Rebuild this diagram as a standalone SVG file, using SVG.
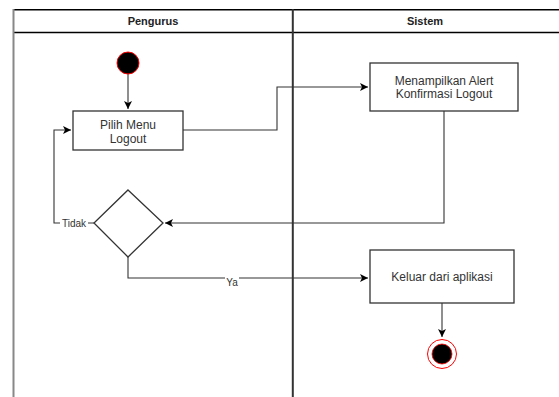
<svg xmlns="http://www.w3.org/2000/svg" width="559" height="397" viewBox="0 0 559 397">
<style>
.lane{stroke:#000;stroke-width:1.5;fill:none}
.box{fill:#fff;stroke:#333;stroke-width:1.3}
.t{font-family:"Liberation Sans",Arial,sans-serif;font-size:12px;fill:#333;text-anchor:middle}
.l{font-family:"Liberation Sans",Arial,sans-serif;font-size:10px;fill:#333;text-anchor:middle}
.h{font-family:"Liberation Sans",Arial,sans-serif;font-size:11px;font-weight:bold;fill:#222;text-anchor:middle}
.e{stroke:#333;stroke-width:1.1;fill:none}
</style>
<defs>
<marker id="arr" markerWidth="10" markerHeight="10" refX="8" refY="5" orient="auto" markerUnits="userSpaceOnUse">
<path d="M0,1 L8,5 L0,9 L2,5 Z" fill="#000"/>
</marker>
</defs>
<rect width="559" height="397" fill="#fff"/>
<g id="lanes">
<line class="lane" x1="13" y1="9.8" x2="559" y2="9.8"/>
<line class="lane" x1="13" y1="32.5" x2="559" y2="32.5"/>
<line x1="13.5" y1="9" x2="13.5" y2="397" stroke="#888" stroke-width="2"/>
<line x1="292.8" y1="9" x2="292.8" y2="397" stroke="#333" stroke-width="2"/>
<text class="h" x="153" y="25">Pengurus</text>
<text class="h" x="425" y="25">Sistem</text>
</g>
<g id="connectors">
<path class="e" d="M128,74 V109" marker-end="url(#arr)"/>
<path class="e" d="M183,130 H277 V87 H368" marker-end="url(#arr)"/>
<path class="e" d="M444,111 V223 H165" marker-end="url(#arr)"/>
<path class="e" d="M94,223 H54 V130 H71" marker-end="url(#arr)"/>
<path class="e" d="M128,257 V278 H368" marker-end="url(#arr)"/>
<path class="e" d="M442,303 V337" marker-end="url(#arr)"/>
<rect x="60" y="217" width="28" height="12" fill="#fff"/>
<text class="l" x="74" y="227">Tidak</text>
<rect x="225" y="277" width="14" height="11" fill="#fff"/>
<text class="l" x="232" y="286">Ya</text>
</g>
<g id="start">
<circle cx="128" cy="63" r="11" fill="#000" stroke="#f00" stroke-width="1"/>
</g>
<g id="pilih">
<rect class="box" x="73" y="111" width="110" height="39"/>
<text class="t" x="128" y="129">Pilih Menu</text>
<text class="t" x="128" y="143">Logout</text>
</g>
<g id="alert">
<rect class="box" x="370" y="63" width="148" height="48"/>
<text class="t" x="444" y="85">Menampilkan Alert</text>
<text class="t" x="444" y="98">Konfirmasi Logout</text>
</g>
<g id="decision">
<path class="box" d="M128,190 L163,223 L128,257 L94,223 Z"/>
</g>
<g id="keluar">
<rect class="box" x="370" y="250" width="144" height="53"/>
<text class="t" x="442" y="281">Keluar dari aplikasi</text>
</g>
<g id="end">
<circle cx="442" cy="354" r="14.5" fill="#fff" stroke="#f00" stroke-width="1"/>
<circle cx="442" cy="354" r="10" fill="#000" stroke="#f00" stroke-width="0.8"/>
</g>
</svg>
